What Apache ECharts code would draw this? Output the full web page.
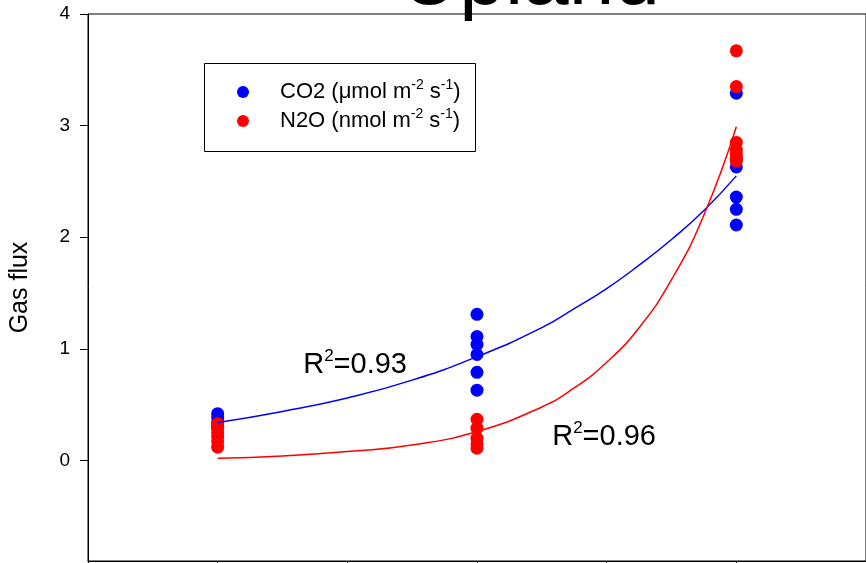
<!DOCTYPE html>
<html>
<head>
<meta charset="utf-8">
<script src="https://cdn.jsdelivr.net/npm/echarts@6/dist/echarts.min.js"></script>
<style>
  html, body { margin: 0; padding: 0; background: #fff; }
  #chart { width: 866px; height: 563px; }
</style>
</head>
<body>
<div id="chart"></div>
<script>
// measured points (x = position on the sampling axis, y = gas flux)
const co2Points = [
  [1, 0.42], [1, 0.38], [1, 0.34], [1, 0.30],
  [3, 1.31], [3, 1.11], [3, 1.04], [3, 0.95], [3, 0.79], [3, 0.63],
  [5, 3.29], [5, 2.70], [5, 2.63], [5, 2.36], [5, 2.25], [5, 2.11]
];
const n2oPoints = [
  [1, 0.33], [1, 0.29], [1, 0.25], [1, 0.21], [1, 0.17], [1, 0.12],
  [3, 0.37], [3, 0.29], [3, 0.20], [3, 0.15], [3, 0.11],
  [5, 3.67], [5, 3.35], [5, 2.85], [5, 2.78], [5, 2.74], [5, 2.70], [5, 2.68]
];

// fitted curves
const co2Fit = [
  [1, 0.34], [1.5, 0.44], [2, 0.56], [2.5, 0.72], [3, 0.93],
  [3.5, 1.19], [3.75, 1.36], [4, 1.54], [4.25, 1.75], [4.5, 1.98], [4.75, 2.24], [5, 2.55]
];
const n2oFit = [
  [1, 0.02], [1.5, 0.04], [2, 0.08], [2.5, 0.14], [3, 0.26],
  [3.5, 0.48], [3.75, 0.65], [4, 0.88], [4.25, 1.19], [4.5, 1.62], [4.75, 2.2], [5, 2.99]
];

const r2Labels = [
  { value: [2.06, 0.86], text: "0.93" },
  { value: [3.98, 0.215], text: "0.96" }
];

const yTicks = [0, 1, 2, 3, 4];
const xTicks = [0, 1, 2, 3, 4, 5, 6];

const font = "'Liberation Sans', Arial, sans-serif";
const chart = echarts.init(document.getElementById("chart"));

const legendText = {
  CO2: "{g| }{a|CO2 (\u03bcmol m}{s|-2}{a| s}{s|-1}{a|)}",
  N2O: "{g| }{a|N2O (nmol m}{s|-2}{a| s}{s|-1}{a|)}"
};

chart.setOption({
  animation: false,
  backgroundColor: "#fff",
  title: {
    text: "Upland",
    left: 525,
    top: -65,
    textAlign: "center",
    textStyle: { fontSize: 82, fontWeight: "normal", color: "#000", fontFamily: font }
  },
  grid: {
    left: 88, top: 14, width: 780, height: 547,
    show: true, borderColor: "#000", borderWidth: 1, backgroundColor: "transparent"
  },
  legend: {
    data: ["CO2", "N2O"],
    orient: "vertical",
    left: 237,
    top: 78,
    padding: 0,
    itemGap: 4,
    itemWidth: 12,
    itemHeight: 12,
    icon: "circle",
    selectedMode: false,
    formatter: (name) => legendText[name],
    textStyle: {
      color: "#000",
      fontFamily: font,
      fontSize: 22,
      rich: {
        g: { width: 26 },
        a: { fontSize: 22, lineHeight: 26, fontFamily: font, color: "#000" },
        s: { fontSize: 14, padding: [0, 0, 14, 0], fontFamily: font, color: "#000" }
      }
    }
  },
  graphic: [
    {
      type: "rect",
      shape: { x: 204.5, y: 63.5, width: 271, height: 88 },
      style: { fill: "none", stroke: "#000", lineWidth: 1 },
      z: 100
    }
  ],
  xAxis: {
    type: "value",
    min: xTicks[0],
    max: xTicks[xTicks.length - 1],
    interval: 1,
    axisLine: { onZero: false, lineStyle: { color: "#000", width: 1 } },
    axisTick: { inside: false, length: 6, lineStyle: { color: "#000" } },
    axisLabel: { show: false },
    splitLine: { show: false }
  },
  yAxis: {
    type: "value",
    min: -0.9,
    max: 4,
    name: "Gas flux",
    nameLocation: "middle",
    nameRotate: 90,
    nameGap: 55,
    nameTextStyle: { fontSize: 25, color: "#000", fontFamily: font },
    axisLine: { onZero: false, lineStyle: { color: "#000", width: 1 } },
    axisTick: { inside: false, length: 8, customValues: yTicks, lineStyle: { color: "#000" } },
    axisLabel: { customValues: yTicks, margin: 18, fontSize: 19, color: "#000", fontFamily: font },
    splitLine: { show: false }
  },
  series: [
    {
      name: "CO2",
      type: "scatter",
      data: co2Points,
      symbolSize: 13,
      itemStyle: { color: "#0000ff", opacity: 1 },
      z: 2
    },
    {
      name: "N2O",
      type: "scatter",
      data: n2oPoints,
      symbolSize: 13,
      itemStyle: { color: "#ff0000", opacity: 1 },
      z: 3
    },
    {
      name: "CO2 fit",
      type: "line",
      data: co2Fit,
      smooth: true,
      showSymbol: false,
      lineStyle: { color: "#0000ff", width: 1.5 },
      z: 4
    },
    {
      name: "N2O fit",
      type: "line",
      data: n2oFit,
      smooth: true,
      showSymbol: false,
      lineStyle: { color: "#ff0000", width: 1.5 },
      z: 4
    },
    {
      name: "R2",
      type: "scatter",
      symbolSize: 0,
      silent: true,
      itemStyle: { opacity: 1 },
      data: r2Labels.map((d) => ({ value: d.value, text: d.text })),
      label: {
        show: true,
        position: "inside",
        color: "#000",
        opacity: 1,
        textBorderWidth: 0,
        formatter: (p) => "{a|R}{s|2}{a|=" + p.data.text + "}",
        rich: {
          a: { fontSize: 29, lineHeight: 32, color: "#000", fontFamily: font },
          s: { fontSize: 17, padding: [0, 0, 16, 0], color: "#000", fontFamily: font }
        }
      },
      z: 5
    }
  ]
});
</script>
</body>
</html>
